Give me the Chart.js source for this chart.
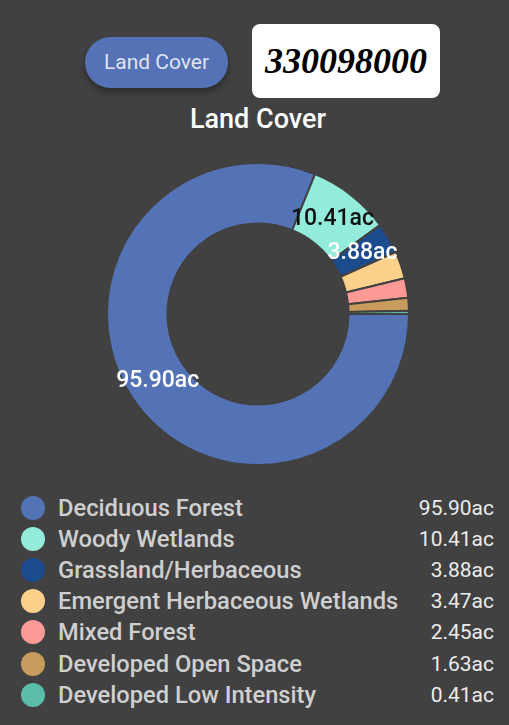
<!DOCTYPE html>
<html>
<head>
<meta charset="utf-8">
<script src="https://cdn.jsdelivr.net/npm/chart.js@4.4.1/dist/chart.umd.min.js"></script>
<style>
  html, body { margin: 0; padding: 0; }
  body { width: 509px; height: 725px; background: #414141; position: relative; overflow: hidden; font-family: Roboto, sans-serif; }
  .btn { position: absolute; left: 85px; top: 37px; width: 143px; height: 51px; border-radius: 26px; background: #5572b6;
         color: #dfe4f2; font-size: 21px; line-height: 51px; text-align: center; box-shadow: 0 4px 6px rgba(0,0,0,0.35); }
  .total { position: absolute; left: 252px; top: 24px; width: 188px; height: 74px; border-radius: 8px; background: #fff;
           color: #000; font-family: "Liberation Serif", serif; font-style: italic; font-weight: bold; font-size: 36px;
           line-height: 74px; text-align: center; }
  .title { position: absolute; left: 0; width: 516px; top: 103px; text-align: center; color: #fff; font-size: 27px; font-weight: 500; }
  .wrap { position: absolute; left: 0; top: 162px; width: 516px; height: 304px; }
  #legend { position: absolute; left: 21px; top: 492px; width: 473px; }
  .row { display: flex; align-items: center; height: 31.2px; }
  .dot { width: 24px; height: 24px; border-radius: 50%; margin-right: 13px; flex: none; }
  .lab { flex: 1; color: #cfcfcf; font-size: 23.7px; font-weight: 500; white-space: nowrap; }
  .val { color: #ececec; font-size: 21px; }
</style>
</head>
<body>
<div class="btn">Land Cover</div>
<div class="total">330098000</div>
<div class="title">Land Cover</div>
<div class="wrap"><canvas id="chartLand"></canvas></div>
<div id="legend"></div>
<script>
// dados
const categorias = ['Deciduous Forest', 'Woody Wetlands', 'Grassland/Herbaceous', 'Emergent Herbaceous Wetlands',
                    'Mixed Forest', 'Developed Open Space', 'Developed Low Intensity'];
const acres = [95.90, 10.41, 3.88, 3.47, 2.45, 1.63, 0.41];
const cores = ['#5473b7', '#93ecda', '#1d4c8e', '#fdd18b', '#fd9a96', '#c99c5d', '#5abdaa'];
const corTexto = ['#ffffff', '#111111', '#ffffff', '#111111', '#111111', '#111111', '#111111'];
const minLabel = 3.5; // só rotula fatias maiores

// labels dentro das fatias
const labelsPlugin = {
    id: 'sliceLabels',
    afterDatasetsDraw(chart) {
        const ctx = chart.ctx;
        const meta = chart.getDatasetMeta(0);
        ctx.save();
        ctx.font = '500 23px Roboto';
        ctx.textAlign = 'center';
        ctx.textBaseline = 'middle';
        meta.data.forEach((arc, i) => {
            if (acres[i] < minLabel) return;
            const p = arc.getCenterPoint();
            ctx.fillStyle = corTexto[i];
            ctx.fillText(acres[i].toFixed(2) + 'ac', p.x, p.y);
        });
        ctx.restore();
    }
};

const chart = new Chart(document.getElementById('chartLand'), {
    type: 'doughnut',
    data: {
        labels: categorias,
        datasets: [{
            data: acres,
            backgroundColor: cores,
            borderColor: '#414141',
            borderWidth: 2
        }]
    },
    options: {
        responsive: true,
        maintainAspectRatio: false,
        animation: false,
        rotation: 90,
        cutout: '60%',
        plugins: { legend: { display: false }, tooltip: { enabled: false } }
    },
    plugins: [labelsPlugin]
});

// legenda HTML
const legend = document.getElementById('legend');
categorias.forEach((c, i) => {
    const row = document.createElement('div');
    row.className = 'row';
    row.innerHTML = '<span class="dot" style="background:' + cores[i] + '"></span>' +
        '<span class="lab">' + c + '</span><span class="val">' + acres[i].toFixed(2) + 'ac</span>';
    legend.appendChild(row);
});
</script>
</body>
</html>
